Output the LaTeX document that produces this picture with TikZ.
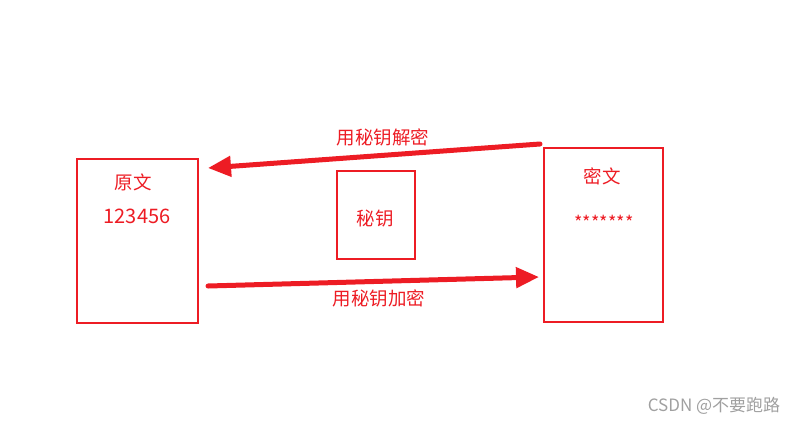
\documentclass[tikz,border=0pt]{standalone}
\usepackage{fontspec}
\setmainfont{Noto Sans CJK SC}
\usepackage{xcolor}
\usepackage{tikz}
\usetikzlibrary{arrows.meta, positioning}
\definecolor{keyred}{HTML}{ED1C24}
\definecolor{markgray}{HTML}{A0A0A0}

\begin{document}
\begin{tikzpicture}[x=1pt, y=-1pt,
    box/.style={rectangle, draw=keyred, line width=2pt, inner sep=0pt},
    txt/.style={text=keyred, font=\fontsize{18.5}{22}\selectfont, inner sep=0pt},
    arr/.style={-{Triangle[length=23pt, width=20pt]}, draw=keyred, line width=5pt, line cap=round}
]
    \useasboundingbox (0,0) rectangle (798,424);

    \node[box, minimum width=121pt, minimum height=164pt] (plain) at (137.5, 241) {};
    \node[box, minimum width=119pt, minimum height=174pt] (cipher) at (603.5, 235) {};
    \node[box, minimum width=78pt, minimum height=88pt] (key) at (376, 215) {};

    \node[txt] (plainlbl) at (133, 182) {原文};
    \node[txt, font=\fontsize{20}{24}\selectfont] (plainval) at (137, 216) {123456};
    \node[txt] (cipherlbl) at (602, 176) {密文};
    \node[txt, font=\fontsize{18}{22}\selectfont] (cipherval) at (604, 222) {*******};
    \node[txt] (keylbl) at (375, 219) {秘钥};

    % arrow ends
    \coordinate (decstart) at ([shift={(-3pt,3pt)}]cipher.north west);
    \coordinate (decend) at ([shift={(9pt,-10pt)}]plain.north east);
    \coordinate (encstart) at ([shift={(9pt,38pt)}]plain.south east);
    \coordinate (encend) at ([shift={(-4pt,46pt)}]cipher.south west);

    \draw[arr] (decstart) -- (decend);
    \draw[arr] (encstart) -- (encend);

    \node[txt] (declbl) at (383, 137) {用秘钥解密};
    \node[txt] (enclbl) at (379, 298) {用秘钥加密};

    \node[text=markgray, font=\fontsize{17}{20}\selectfont, inner sep=0pt] (mark) at (714, 406) {CSDN @不要跑路};
\end{tikzpicture}
\end{document}
